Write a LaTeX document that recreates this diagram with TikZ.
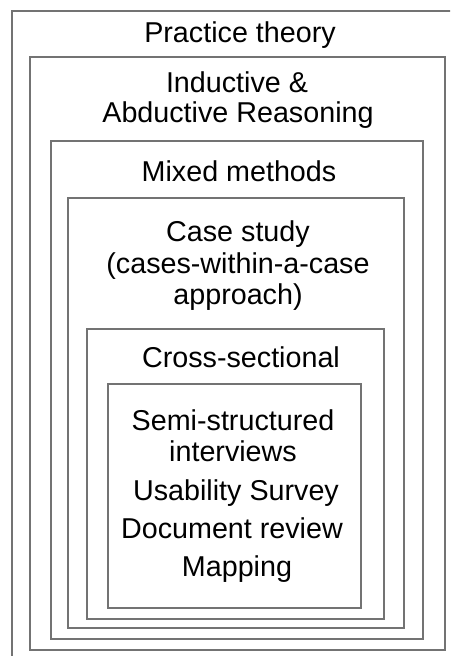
\documentclass[tikz,border=0pt]{standalone}
\usepackage{fontspec}
\setmainfont{Liberation Sans}
\begin{document}
\begin{tikzpicture}[x=1pt,y=-1pt,
  frame/.style={draw=black!55,line width=1.2pt},
  lbl/.style={font=\fontsize{28.7}{31}\selectfont,text=black,inner sep=0pt,anchor=base,align=center}]
\useasboundingbox (0,0) rectangle (450,656);
\clip (0,0) rectangle (450,656);
\fill[white] (0,0) rectangle (450,656);
% nested frames
\draw[frame] (12,11) rectangle (470,680);
\draw[frame] (30,57) rectangle (445,650);
\draw[frame] (51,141) rectangle (423,639);
\draw[frame] (68,198) rectangle (404,628);
\draw[frame] (87,329) rectangle (384,619);
\draw[frame] (108,384) rectangle (361,608);
% labels
\node[lbl] (t1) at (240,42) {Practice theory};
\node[lbl] (t2a) at (237,92) {Inductive \&};
\node[lbl] (t2b) at (238,122) {Abductive Reasoning};
\node[lbl] (t3) at (239,181) {Mixed methods};
\node[lbl] (t4a) at (238,241) {Case study};
\node[lbl] (t4b) at (238,273) {(cases-within-a-case};
\node[lbl] (t4c) at (238,304) {approach)};
\node[lbl] (t5) at (241,367) {Cross-sectional};
\node[lbl] (t6a) at (233,430) {Semi-structured};
\node[lbl] (t6b) at (233,461) {interviews};
\node[lbl] (t6c) at (236,500) {Usability Survey};
\node[lbl] (t6d) at (232,538) {Document review};
\node[lbl] (t6e) at (237,576) {Mapping};
\end{tikzpicture}
\end{document}
